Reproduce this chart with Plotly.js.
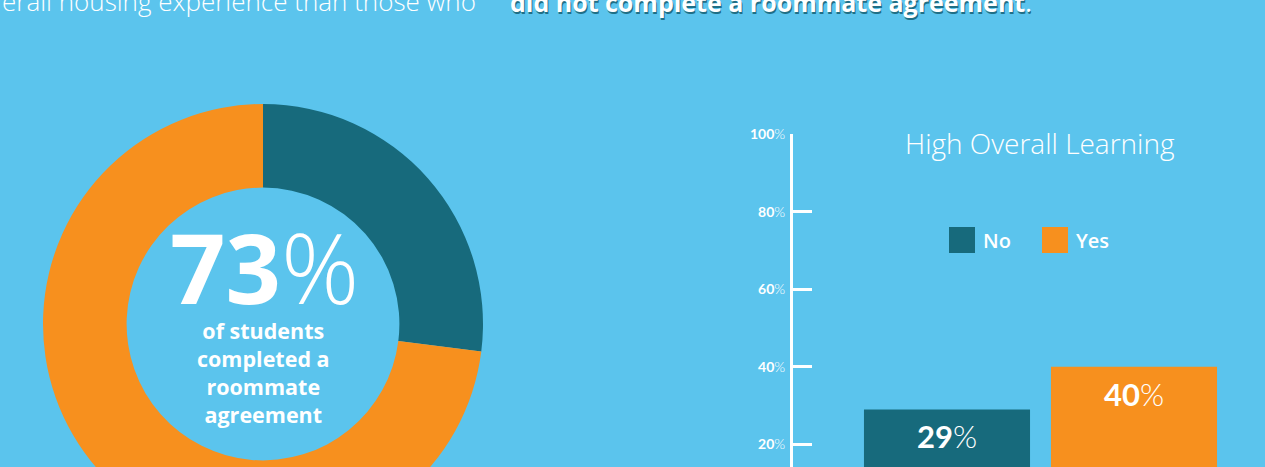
<!DOCTYPE html>
<html>
<head>
<meta charset="utf-8">
<script src="https://cdn.plot.ly/plotly-3.0.1.min.js"></script>
<style>
html,body{margin:0;padding:0;background:#5BC4ED;overflow:hidden;width:1265px;height:467px;}
#chart{width:1265px;height:600px;}
</style>
</head>
<body>
<div id="chart"></div>
<script>
// ---- data ----
var donutLabels = ['Did not complete', 'Completed'];
var donutValues = [27, 73];
var donutHeadline = 73;

var barCategories = ['No', 'Yes'];
var barValues = [29, 40];
var barTitle = 'High Overall Learning';

var tickValues = [20, 40, 60, 80, 100];
var tickLabels = ['20', '40', '60', '80', '100'];

var headerLight = 'erall housing experience than those who ';
var headerBold = 'did not complete a roommate agreement';
var donutCaption = ['of students', 'completed a', 'roommate', 'agreement'];

// ---- styling ----
var BG = '#5BC4ED', TEAL = '#176A7C', ORANGE = '#F7901E', WHITE = '#FFFFFF';
var W = 1265, H = 600;
var barColors = [TEAL, ORANGE];
var RAL = '"Open Sans", "Noto Sans", sans-serif';
var LATO = 'Lato, "Open Sans", sans-serif';

function px(x){ return x / W; }
function py(y){ return 1 - y / H; }

var traces = [];
traces.push({
  type: 'pie',
  labels: donutLabels,
  values: donutValues,
  marker: {colors: [TEAL, ORANGE], line: {width: 0}},
  hole: 0.62,
  sort: false,
  direction: 'clockwise',
  rotation: 0,
  textinfo: 'none',
  hoverinfo: 'label+percent',
  domain: {x: [px(43), px(483)], y: [py(544), py(104)]},
  showlegend: false
});

barCategories.forEach(function(cat, i){
  traces.push({
    type: 'bar',
    name: cat,
    x: [cat],
    y: [barValues[i]],
    width: 0.888,
    marker: {color: barColors[i], line: {width: 0}},
    hoverinfo: 'name+y',
    xaxis: 'x', yaxis: 'y',
    showlegend: false
  });
});

var annotations = [];
// bar value labels (from data)
barCategories.forEach(function(cat, i){
  annotations.push({
    xref: 'x', yref: 'y', x: cat, y: barValues[i], xanchor: 'center', yanchor: 'top', yshift: -6,
    text: '<b>' + barValues[i] + '</b><span style="font-weight:300">%</span>', showarrow: false,
    font: {family: LATO, size: 31, color: WHITE}
  });
});
annotations.push({
  xref: 'paper', yref: 'paper', x: px(0), y: py(21), xanchor: 'left', yanchor: 'bottom',
  text: headerLight, showarrow: false,
  font: {family: RAL, size: 26, color: WHITE, weight: 300}
});
annotations.push({
  xref: 'paper', yref: 'paper', x: px(508), y: py(21), xanchor: 'left', yanchor: 'bottom',
  text: '<b>' + headerBold + '</b>.', showarrow: false,
  font: {family: RAL, size: 25, color: WHITE, shadow: '1px 2px 0px #1f6f86'}
});
annotations.push({
  xref: 'paper', yref: 'paper', x: px(1040), y: py(143), xanchor: 'center', yanchor: 'middle',
  text: barTitle, showarrow: false,
  font: {family: RAL, size: 28, color: WHITE, weight: 300}
});
annotations.push({
  xref: 'paper', yref: 'paper', x: px(264), y: py(266), xanchor: 'center', yanchor: 'middle',
  text: '<b>' + donutHeadline + '</b><span style="font-weight:200">%</span>', showarrow: false,
  font: {family: RAL, size: 97, color: WHITE}
});
annotations.push({
  xref: 'paper', yref: 'paper', x: px(263), y: py(372), xanchor: 'center', yanchor: 'middle',
  text: donutCaption.join('<br>'), showarrow: false,
  font: {family: RAL, size: 21.5, color: WHITE, weight: 700}
});

// custom legend
var shapes = [];
var legendX = [949, 1042];
barCategories.forEach(function(cat, i){
  shapes.push({
    type: 'rect', xref: 'paper', yref: 'paper',
    x0: px(legendX[i]), x1: px(legendX[i] + 26), y0: py(253), y1: py(227),
    fillcolor: barColors[i], line: {width: 0}
  });
  annotations.push({
    xref: 'paper', yref: 'paper', x: px(legendX[i] + 32), y: py(240), xanchor: 'left', yanchor: 'middle',
    text: cat, showarrow: false,
    font: {family: RAL, size: 20, color: WHITE, weight: 600}
  });
});

var layout = {
  width: W, height: H,
  paper_bgcolor: BG, plot_bgcolor: 'rgba(0,0,0,0)',
  margin: {l: 0, r: 0, t: 0, b: 0, pad: 0},
  showlegend: false,
  barmode: 'overlay',
  xaxis: {
    domain: [px(793), 1],
    type: 'category',
    range: [-0.8235, 1.7005],
    visible: false,
    fixedrange: true
  },
  yaxis: {
    domain: [py(522), py(134)],
    range: [0, 100],
    tickvals: tickValues,
    ticktext: tickLabels.map(function(t){ return '<b>' + t + '</b><span style="font-weight:300">%</span>'; }),
    ticks: 'inside', ticklen: 19, tickwidth: 3, tickcolor: WHITE,
    showline: true, linecolor: WHITE, linewidth: 3,
    showgrid: false, zeroline: false,
    ticklabelstandoff: 2,
    tickfont: {family: LATO, size: 14, color: WHITE},
    fixedrange: true
  },
  annotations: annotations,
  shapes: shapes,
  font: {family: RAL, color: WHITE}
};

Plotly.newPlot('chart', traces, layout, {displayModeBar: false});
</script>
</body>
</html>
